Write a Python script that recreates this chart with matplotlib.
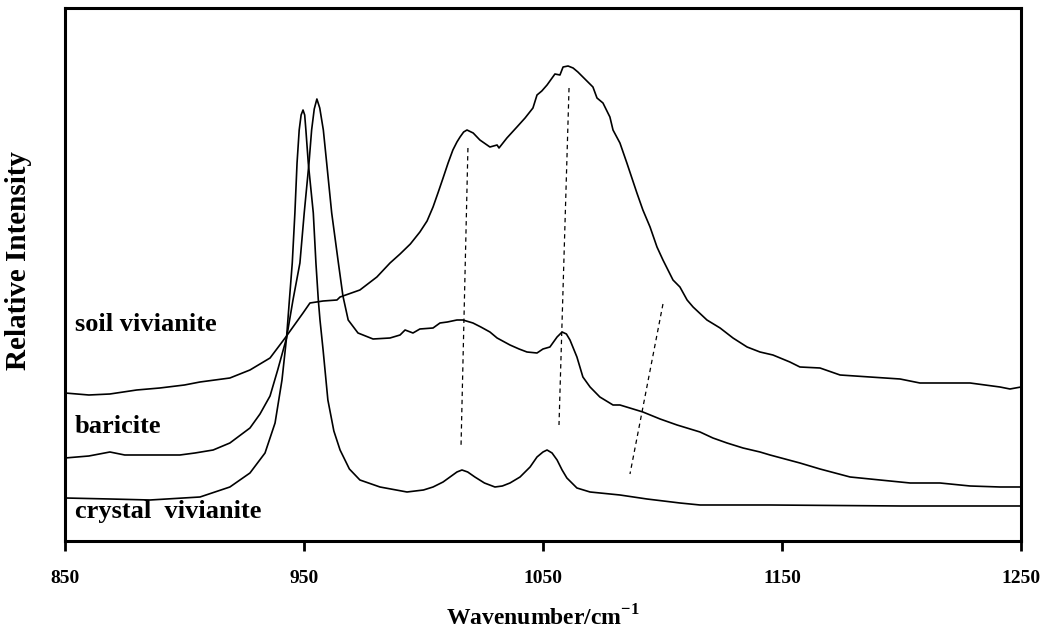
import matplotlib
matplotlib.use("Agg")
import matplotlib.pyplot as plt

plt.rcParams["mathtext.fontset"] = "custom"
plt.rcParams["mathtext.rm"] = "Liberation Serif"
plt.rcParams["mathtext.bf"] = "Liberation Serif:bold"

# Raman spectra (wavenumber / cm-1, relative intensity in arbitrary units)
crystal_wn = [850, 868.8, 885.6, 906.5, 919.0, 927.4, 933.7, 937.9, 940.8, 942.7, 943.9, 945.1,
              946.2, 947.1, 948.0, 948.8, 949.6, 950.3, 950.8, 951.8, 953.9, 955.0, 956.0, 956.7,
              958.0, 960.0, 962.5, 965.1, 969.0, 973.4, 981.8, 993.1, 1000.0, 1004.0, 1008.2,
              1011.1, 1014.0, 1016.1, 1018.5, 1021.5, 1025.5, 1029.9, 1033.0, 1036.2, 1040.4,
              1044.6, 1047.5, 1050.0, 1051.7, 1053.8, 1055.9, 1058.0, 1060.0, 1064.2, 1069.7,
              1082.2, 1093.5, 1107.3, 1115.7, 1145.0, 1200.0, 1250]
crystal_int = [43, 42, 41, 44, 54, 68, 88, 118, 161, 203, 241, 278,
               328, 378, 411, 426, 431, 426, 411, 378, 328, 278, 241, 221,
               191, 141, 110, 91, 72, 61, 54, 49, 51, 54, 59,
               64, 69, 71, 69, 64, 58, 54, 55, 58, 64,
               74, 84, 89, 91, 88, 81, 71, 63, 53, 49,
               46, 42, 38, 36, 36, 35, 35]

baricite_wn = [850, 860, 868.8, 875, 885, 898.1, 904.4, 912, 919.0, 927.4, 931.6, 935.8, 939.0,
               942.7, 945.4, 948.3, 950.1, 952.1, 953.2, 954.3, 955.4, 956.6, 958.1, 959.5,
               961.6, 964.4, 966.3, 968.5, 972.6, 978.9, 986.0, 990.2, 992.3, 995.6, 998.5,
               1004.0, 1006.9, 1010.0, 1014.0, 1016.5, 1020.7, 1024.0, 1027.8, 1030.8, 1036.2,
               1040.0, 1043.3, 1047.5, 1050.0, 1052.9, 1055.9, 1058.0, 1059.8, 1061.3, 1064.2,
               1066.7, 1069.7, 1073.8, 1079.3, 1082.2, 1087.7, 1091.8, 1099.0, 1106.1, 1115.7,
               1121.1, 1127.0, 1133.7, 1140.8, 1145.0, 1157.5, 1165.9, 1178.5, 1191.0, 1203.6,
               1216.1, 1228.7, 1241.2, 1250]
baricite_int = [83, 85, 89, 86, 86, 86, 88, 91, 98, 113, 127, 145, 171,
                203, 241, 278, 328, 378, 411, 432, 442, 433, 411, 378,
                328, 278, 245, 221, 208, 202, 203, 206, 211, 208, 212,
                213, 218, 219, 221, 221, 218, 214, 209, 203, 196,
                192, 189, 188, 192, 194, 204, 209, 207, 201, 184,
                164, 154, 144, 136, 136, 132, 129, 122, 116, 109,
                103, 98, 93, 89, 86, 78, 72, 64, 61, 58,
                58, 55, 54, 54]

soil_wn = [850, 860, 868.8, 880, 889.7, 900, 906.5, 919.0, 927.4, 935.8, 942.1, 946.0, 949.6,
           952.5, 958.0, 963.8, 965.1, 973.4, 980.5, 986.0, 990.2, 994.5, 998.5, 1001.5, 1004.0,
           1006.2, 1008.2, 1010.3, 1012.3, 1014.0, 1015.3, 1016.8, 1018.2, 1020.8, 1023.6,
           1027.8, 1030.8, 1031.6, 1034.9, 1039.1, 1042.5, 1045.8, 1047.5, 1049.5, 1051.7,
           1055.0, 1057.1, 1058.4, 1060.5, 1062.6, 1064.6, 1066.7, 1070.9, 1072.6, 1075.1,
           1078.0, 1079.3, 1082.2, 1085.1, 1089.3, 1091.8, 1094.8, 1097.7, 1100.2, 1104.4,
           1107.3, 1110.3, 1112.8, 1118.6, 1124.1, 1129.5, 1135.4, 1140.8, 1146.2, 1153.3,
           1157.5, 1165.9, 1174.3, 1186.8, 1199.4, 1207.7, 1220.3, 1228.7, 1241.2, 1245.4, 1250]
soil_int = [148, 146, 147, 151, 153, 156, 159, 163, 171, 183, 203, 216, 228,
            238, 240, 241, 244, 251, 264, 278, 287, 297, 309, 320, 334,
            349, 363, 378, 391, 399, 404, 409, 411, 408, 401,
            394, 396, 393, 403, 414, 423, 433, 446, 450, 456,
            467, 466, 474, 475, 473, 469, 464, 454, 443, 438,
            424, 411, 398, 378, 348, 331, 314, 294, 281, 261,
            254, 241, 234, 221, 213, 203, 194, 189, 186, 179,
            174, 173, 166, 164, 162, 158, 158, 158, 154, 152, 154]

# dashed guide lines (top point, bottom point)
guide_wn = [(1018.6, 1015.7), (1060.9, 1056.7), (1100.2, 1086.4)]
guide_int = [(393, 94), (453, 116), (237, 67)]

labels = ["soil vivianite", "baricite", "crystal  vivianite"]
label_int = [216, 114, 29]

xticks = [850, 950, 1050, 1150, 1250]

serif = "Liberation Serif"

fig = plt.figure(figsize=(10.53, 6.40), dpi=100)
ax = fig.add_axes([0.0617, 0.1547, 0.9079, 0.8328])

for wn, inten in [(soil_wn, soil_int), (baricite_wn, baricite_int), (crystal_wn, crystal_int)]:
    ax.plot(wn, inten, color="black", linewidth=1.2)

for wn, inten in zip(guide_wn, guide_int):
    ax.plot(wn, inten, color="black", linewidth=0.9, linestyle=(0, (3.5, 3)))

for text, y in zip(labels, label_int):
    ax.text(854, y, text, fontsize=19, fontweight="bold", family=serif, va="center", ha="left")

ax.set_xlim(850, 1250)
ax.set_ylim(0, 533)
ax.set_xticks(xticks)
ax.set_xticklabels([str(t) for t in xticks], fontsize=14, fontweight="bold", family=serif)
ax.set_yticks([])
ax.tick_params(axis="x", direction="out", length=7, width=2, pad=14)

for sp in ax.spines.values():
    sp.set_linewidth(2.2)

ax.set_xlabel(r"Wavenumber/cm$^{\mathbf{-1}}$", fontsize=17, fontweight="bold", family=serif, labelpad=13)
ax.set_ylabel("Relative Intensity", fontsize=21, fontweight="bold", family=serif)
ax.yaxis.set_label_coords(-0.034, 0.527)

fig.savefig("out.png", dpi=100)
